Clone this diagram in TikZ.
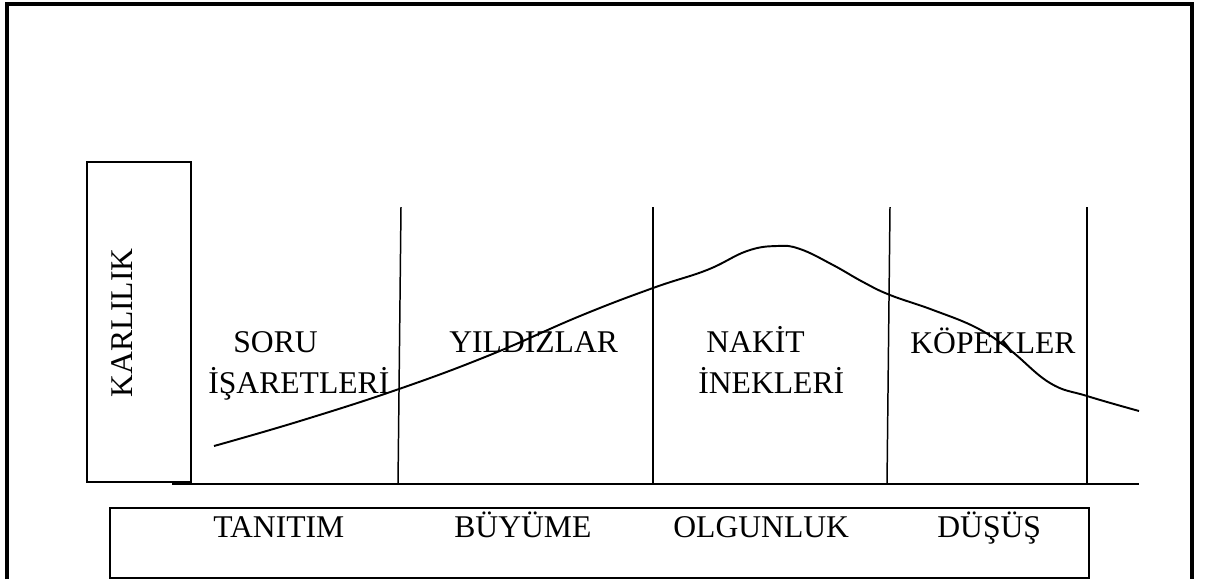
\documentclass[tikz,border=0pt]{standalone}
\usepackage{fontspec}
\setmainfont{Liberation Serif}
\usetikzlibrary{positioning}

\begin{document}
\begin{tikzpicture}[
    x=0.02cm, y=-0.02cm,
    frame/.style={line width=1.8pt},
    box/.style={line width=1.4pt},
    axis/.style={line width=1.1pt},
    divider/.style={line width=0.85pt},
    curve/.style={line width=1.1pt, line join=round},
    phase/.style={anchor=base west, inner sep=0pt, font=\fontsize{18}{22.8}\selectfont},
    stage/.style={phase, align=left}
]
    \useasboundingbox (0,0) rectangle (1209,579);

    % outer frame, open at the bottom
    \draw[frame] (7,579) -- (7,4) -- (1192,4) -- (1192,579);

    \draw[box] (87,162) rectangle (191,482);
    \node[phase, rotate=90, anchor=base] (karlilik) at (132,323) {KARLILIK};

    \draw[box] (110,508) rectangle (1089,578);
    \draw[axis] (172,484) -- (1139,484);

    \draw[divider] (401,207) -- (398,484);
    \draw[divider] (653,207) -- (653,484);
    \draw[divider] (890,207) -- (887,484);
    \draw[divider] (1087,207) -- (1087,484);

    \draw[curve] plot[smooth, tension=0.7] coordinates {
        (214,446) (300,421) (399,389) (490,355) (580,316) (653,288)
        (707,270) (747,251) (777,246) (800,249) (833,265)
        (863,282) (890,295) (933,310) (977,328) (1010,350) (1050,383)
        (1087,396) (1139,411)};

    % multi-line labels sit on the baseline of their last line
    \node[stage] (soru) at (208,393) {\hspace*{0.5cm}SORU\\İŞARETLERİ};
    \node[phase] (yildiz) at (449,352) {YILDIZLAR};
    \node[stage] (nakit) at (698,393) {\hspace*{0.16cm}NAKİT\\İNEKLERİ};
    \node[phase] (kopek) at (910,353) {KÖPEKLER};

    \node[phase] (tanitim) at (213,537) {TANITIM};
    \node[phase] (buyume) at (454,537) {BÜYÜME};
    \node[phase] (olgunluk) at (673,537) {OLGUNLUK};
    \node[phase] (dusus) at (937,537) {DÜŞÜŞ};
\end{tikzpicture}
\end{document}
